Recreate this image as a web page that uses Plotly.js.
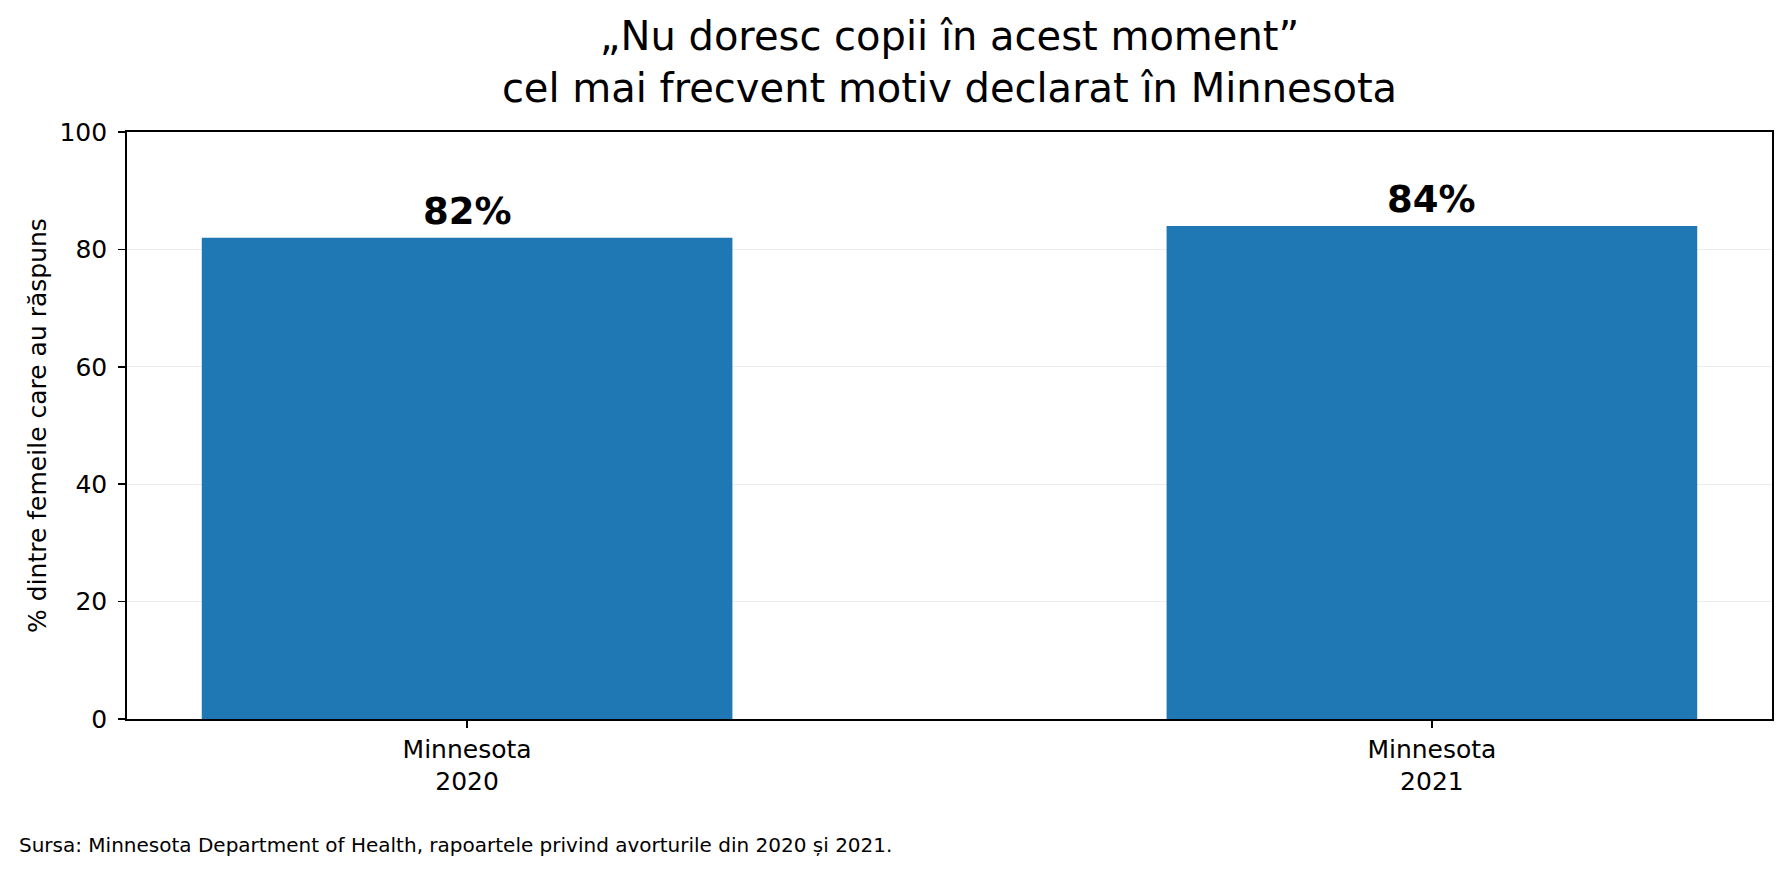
<!DOCTYPE html>
<html>
<head>
<meta charset="utf-8">
<script src="https://cdn.plot.ly/plotly-3.0.1.min.js"></script>
<style>
  body { margin: 0; background: #fff; }
  #chart { width: 1790px; height: 875px; }
</style>
</head>
<body>
<div id="chart"></div>
<script>
// data
let categories = ["Minnesota<br>2020", "Minnesota<br>2021"];
let values = [82, 84];
let valueLabels = ["82%", "84%"];
let yTicks = [0, 20, 40, 60, 80, 100];

let font = "DejaVu Sans, Verdana, sans-serif";

let trace1 = {
    x: categories,
    y: values,
    type: 'bar',
    width: 0.55,
    marker: { color: '#1f77b4' },
    hoverinfo: 'skip'
};

// percent labels over the bars
let labels = [];
for (let i = 0; i < categories.length; i++) {
    labels.push({
        x: categories[i],
        y: values[i],
        xref: 'x', yref: 'y',
        text: '<b>' + valueLabels[i] + '</b>',
        showarrow: false,
        yanchor: 'bottom',
        yshift: 3,
        font: { family: font, size: 37, color: '#000' }
    });
}

labels.push({
    x: -0.067, y: -0.238,
    xref: 'paper', yref: 'paper',
    xanchor: 'left', yanchor: 'bottom',
    text: 'Sursa: Minnesota Department of Health, rapoartele privind avorturile din 2020 și 2021.',
    showarrow: false,
    font: { family: font, size: 20, color: '#000' }
});

let layout = {
    width: 1790,
    height: 875,
    margin: { l: 127, r: 18, t: 132, b: 156 },
    paper_bgcolor: '#fff',
    plot_bgcolor: '#fff',
    font: { family: font, size: 25, color: '#000' },
    showlegend: false,
    title: {
        text: '„Nu doresc copii în acest moment”<br>cel mai frecvent motiv declarat în Minnesota',
        font: { family: font, size: 40, color: '#000' },
        x: 0.5, xref: 'paper',
        y: 0.943, yref: 'container', yanchor: 'middle'
    },
    xaxis: {
        type: 'category',
        range: [-0.3525, 1.3525],
        showline: true, mirror: true, linecolor: '#000', linewidth: 1.8,
        ticks: 'outside', ticklen: 7, tickwidth: 1.8, tickcolor: '#000',
        showgrid: false, zeroline: false,
        tickfont: { family: font, size: 25, color: '#000' }
    },
    yaxis: {
        range: [0, 100],
        tickvals: yTicks,
        showline: true, mirror: true, linecolor: '#000', linewidth: 1.8,
        ticks: 'outside', ticklen: 7, tickwidth: 1.8, tickcolor: '#000',
        ticklabelstandoff: 6,
        showgrid: true, gridcolor: '#ebebeb', gridwidth: 1.2,
        zeroline: false,
        automargin: true,
        tickfont: { family: font, size: 25, color: '#000' },
        title: {
            text: '% dintre femeile care au răspuns',
            standoff: 6,
            font: { family: font, size: 25, color: '#000' }
        }
    },
    annotations: labels
};

Plotly.newPlot('chart', [trace1], layout, { displayModeBar: false, staticPlot: true });
</script>
</body>
</html>
